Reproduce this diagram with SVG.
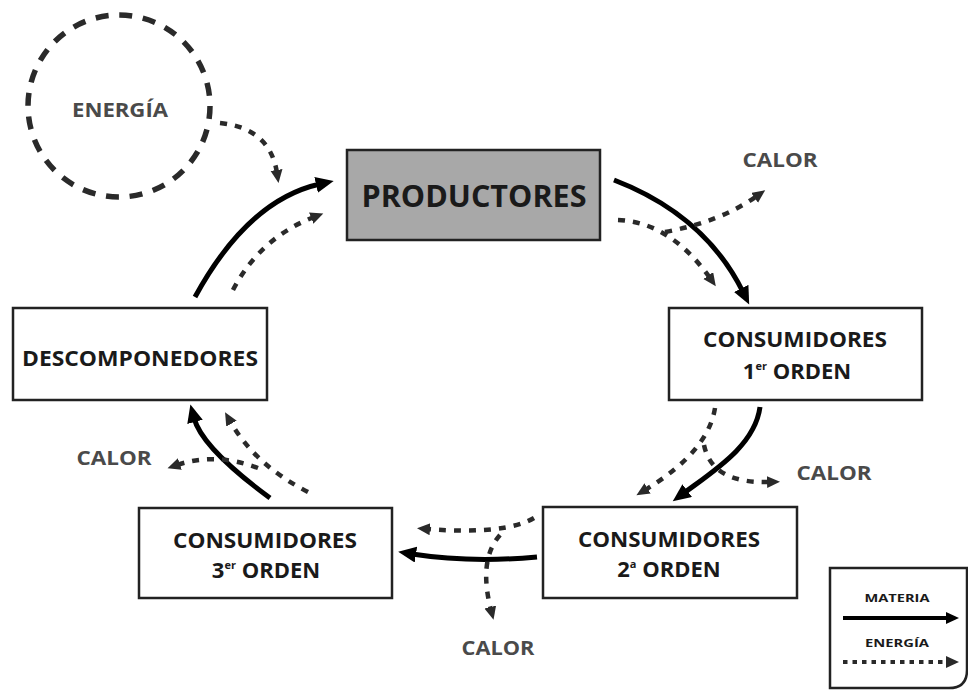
<svg xmlns="http://www.w3.org/2000/svg" width="968" height="690" viewBox="0 0 968 690">
<defs>
<style>
.box{fill:#fff;stroke:#222;stroke-width:2.5}
.prod{fill:#a8a8a8;stroke:#222;stroke-width:2.5}
.lbl{font-family:"Open Sans","Liberation Sans",sans-serif;font-weight:bold;fill:#1a1a1a;text-anchor:middle}
.grey{font-family:"Open Sans","Liberation Sans",sans-serif;font-weight:bold;fill:#4a4a4a;text-anchor:middle}
.mat{fill:none;stroke:#000;stroke-width:5;marker-end:url(#hm)}
.ene{fill:none;stroke:#2a2a2a;stroke-width:4.5;stroke-dasharray:7 8;marker-end:url(#he)}
</style>
<marker id="hm" markerUnits="userSpaceOnUse" markerWidth="20" markerHeight="18" refX="4" refY="8" orient="auto"><path d="M0,0 L18,8 L0,16 Z" fill="#000"/></marker>
<marker id="he" markerUnits="userSpaceOnUse" markerWidth="15" markerHeight="14" refX="3" refY="6" orient="auto"><path d="M0,0 L13,6 L0,12 Z" fill="#2a2a2a"/></marker>
<marker id="hl" markerUnits="userSpaceOnUse" markerWidth="16" markerHeight="14" refX="3" refY="6" orient="auto"><path d="M0,0 L13,6 L0,12 Z" fill="#000"/></marker>
</defs>
<rect width="968" height="690" fill="#fff"/>

<g id="energia">
<circle cx="119" cy="106" r="91" fill="none" stroke="#2a2a2a" stroke-width="5.5" stroke-dasharray="13 10.8"/>
<text class="grey" x="120" y="117" font-size="20" textLength="96" lengthAdjust="spacingAndGlyphs">ENERGÍA</text>
</g>

<g id="productores">
<rect class="prod" x="347" y="150" width="253" height="90"/>
<text class="lbl" x="474" y="207" font-size="31" textLength="225" lengthAdjust="spacingAndGlyphs">PRODUCTORES</text>
</g>

<g id="consumidores1">
<rect class="box" x="669" y="308" width="253" height="92"/>
<text class="lbl" x="795" y="347" font-size="22" textLength="184" lengthAdjust="spacingAndGlyphs">CONSUMIDORES</text>
<text class="lbl" x="797" y="379" font-size="22">1<tspan font-size="11" dy="-9">er</tspan><tspan dy="9"> ORDEN</tspan></text>
</g>

<g id="descomponedores">
<rect class="box" x="13" y="308" width="254" height="92"/>
<text class="lbl" x="140" y="366" font-size="22" textLength="236" lengthAdjust="spacingAndGlyphs">DESCOMPONEDORES</text>
</g>

<g id="consumidores3">
<rect class="box" x="139" y="508" width="253" height="90"/>
<text class="lbl" x="265" y="548" font-size="22" textLength="184" lengthAdjust="spacingAndGlyphs">CONSUMIDORES</text>
<text class="lbl" x="266" y="578" font-size="22">3<tspan font-size="11" dy="-9">er</tspan><tspan dy="9"> ORDEN</tspan></text>
</g>

<g id="consumidores2">
<rect class="box" x="543" y="507" width="254" height="91"/>
<text class="lbl" x="669" y="547" font-size="22" textLength="182" lengthAdjust="spacingAndGlyphs">CONSUMIDORES</text>
<text class="lbl" x="669" y="577" font-size="22">2<tspan font-size="11" dy="-9">a</tspan><tspan dy="9"> ORDEN</tspan></text>
</g>

<g id="calor-labels">
<text class="grey" x="780" y="167" font-size="20" textLength="75" lengthAdjust="spacingAndGlyphs">CALOR</text>
<text class="grey" x="834" y="480" font-size="20" textLength="75" lengthAdjust="spacingAndGlyphs">CALOR</text>
<text class="grey" x="114" y="465" font-size="20" textLength="75" lengthAdjust="spacingAndGlyphs">CALOR</text>
<text class="grey" x="498" y="655" font-size="20" textLength="73" lengthAdjust="spacingAndGlyphs">CALOR</text>
</g>

<g id="connectors">
<path class="mat" d="M614 180 Q705 215 743 292"/>
<path class="mat" d="M760 407 C755 445 715 470 684 493"/>
<path class="mat" d="M537 557 Q470 563 412 554"/>
<path class="mat" d="M270 498 Q202 448 194 418"/>
<path class="mat" d="M195 297 Q248 200 320 184"/>

<path class="ene" d="M220 123 Q270 128 277 173"/>
<path class="ene" d="M618 220 Q670 222 710 278"/>
<path class="ene" d="M665 232 Q720 222 757 196"/>
<path class="ene" d="M715 408 Q708 452 645 490"/>
<path class="ene" d="M704 445 Q712 484 770 482"/>
<path class="ene" d="M534 518 Q505 535 427 529"/>
<path class="ene" d="M500 535 Q478 560 491 610"/>
<path class="ene" d="M308 492 Q255 465 230 421"/>
<path class="ene" d="M258 468 Q215 452 177 465"/>
<path class="ene" d="M233 290 Q260 238 314 217"/>
</g>

<g id="legend">
<path d="M830 568 H967 V670 Q967 688 949 688 H830 Z" fill="#fff" stroke="#222" stroke-width="2.5"/>
<text class="lbl" x="897" y="602" font-size="11" textLength="65" lengthAdjust="spacingAndGlyphs">MATERIA</text>
<path d="M843 618 H949" fill="none" stroke="#000" stroke-width="4" marker-end="url(#hl)"/>
<text class="lbl" x="897" y="647" font-size="11" textLength="64" lengthAdjust="spacingAndGlyphs">ENERGÍA</text>
<path d="M843 662 H949" fill="none" stroke="#2a2a2a" stroke-width="4" stroke-dasharray="4.5 5" marker-end="url(#he)"/>
</g>
</svg>
